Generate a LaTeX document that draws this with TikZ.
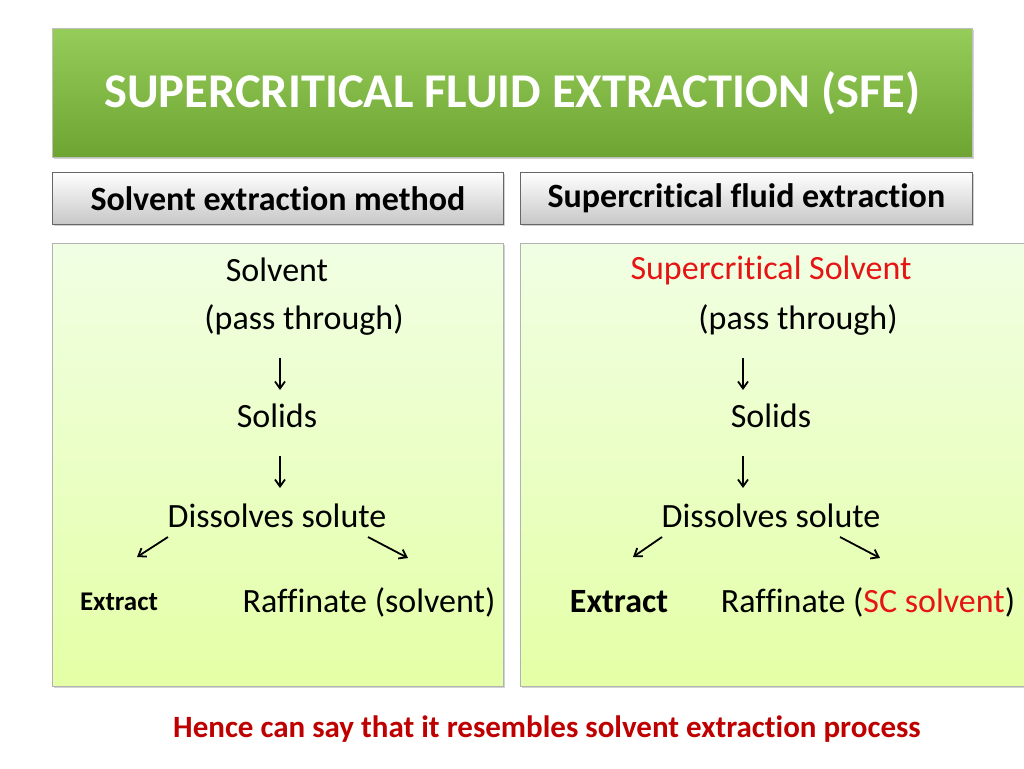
\documentclass[tikz,border=0pt]{standalone}
\usepackage{fontspec}
\setmainfont[Ligatures=NoCommon]{Carlito}
\usetikzlibrary{arrows.meta,shadows}
\begin{document}
\begin{tikzpicture}[x=1pt,y=-1pt,
 body/.style={font=\fontsize{34}{40}\selectfont,anchor=center,inner sep=0},
 arr/.style={-{Straight Barb[length=7pt,width=10pt]},line width=1.8pt},
 panel/.style={draw=black!30,line width=0.8pt,top color=green!6!white!95!yellow,bottom color=green!30!yellow!35!white,drop shadow={opacity=0.35,shadow xshift=2pt,shadow yshift=-2pt}},
 sub/.style={draw=black!60,line width=0.8pt,top color=white,bottom color=black!22,drop shadow={opacity=0.35,shadow xshift=2pt,shadow yshift=-2pt}}]
\useasboundingbox (0,0) rectangle (1024,768);
\fill[white] (0,0) rectangle (1024,768);
\node[draw=black!25,top color={rgb,255:red,150;green,205;blue,90},bottom color={rgb,255:red,110;green,165;blue,50},drop shadow={opacity=0.35,shadow xshift=2pt,shadow yshift=-2pt},minimum width=920pt,minimum height=129pt,anchor=north west,inner sep=0] (title) at (52,28) {};
\node[font=\fontsize{48.5}{56}\selectfont\bfseries,text=white] at (title.center) {SUPERCRITICAL FLUID EXTRACTION (SFE)};
\node[sub,minimum width=451pt,minimum height=52pt,anchor=north west,inner sep=0,font=\fontsize{34}{40}\selectfont\bfseries] (s1) at (52,172) {Solvent extraction method};
\node[sub,minimum width=452pt,minimum height=52pt,anchor=north west,inner sep=0,font=\fontsize{34}{40}\selectfont\bfseries] (s2) at (520,172) {Supercritical fluid extraction};
\node[panel,minimum width=451pt,minimum height=443pt,anchor=north west,inner sep=0] (p1) at (52,243) {};
\node[panel,minimum width=520pt,minimum height=443pt,anchor=north west,inner sep=0] (p2) at (520,243) {};
% left
\node[body] (a1) at (277,270) {Solvent};
\node[body] (a2) at (304,320) {(pass through)};
\node[body] (a3) at (277,416) {Solids};
\node[body] (a4) at (277,516) {Dissolves solute};
\node[body,font=\fontsize{27}{32}\selectfont\bfseries] (a5) at (119,602) {Extract};
\node[body] (a6) at (369,602) {Raffinate (solvent)};
\coordinate (la1) at (280,358); \coordinate (la2) at (280,390);
\coordinate (lb1) at (280,456); \coordinate (lb2) at (280,488);
\coordinate (lc1) at (168,537); \coordinate (lc2) at (137,557);
\coordinate (ld1) at (368,537); \coordinate (ld2) at (408,558);
\draw[arr] (la1)--(la2); \draw[arr] (lb1)--(lb2); \draw[arr] (lc1)--(lc2); \draw[arr] (ld1)--(ld2);
% right
\node[body,text={rgb,255:red,230;green,20;blue,20}] (b1) at (771,270) {Supercritical Solvent};
\node[body] (b2) at (798,320) {(pass through)};
\node[body] (b3) at (771,416) {Solids};
\node[body] (b4) at (771,516) {Dissolves solute};
\node[body,font=\fontsize{34}{40}\selectfont\bfseries] (b5) at (619,602) {Extract};
\node[body] (b6) at (868,602) {Raffinate (\textcolor[RGB]{230,20,20}{SC solvent})};
\coordinate (ra1) at (743,358); \coordinate (ra2) at (743,390);
\coordinate (rb1) at (743,456); \coordinate (rb2) at (743,488);
\coordinate (rc1) at (662,537); \coordinate (rc2) at (633,557);
\coordinate (rd1) at (840,537); \coordinate (rd2) at (880,558);
\draw[arr] (ra1)--(ra2); \draw[arr] (rb1)--(rb2); \draw[arr] (rc1)--(rc2); \draw[arr] (rd1)--(rd2);
\node[font=\fontsize{31}{36}\selectfont\bfseries,text={rgb,255:red,190;green,0;blue,0}] (foot) at (547,729) {Hence can say that it resembles solvent extraction process};
\end{tikzpicture}
\end{document}
